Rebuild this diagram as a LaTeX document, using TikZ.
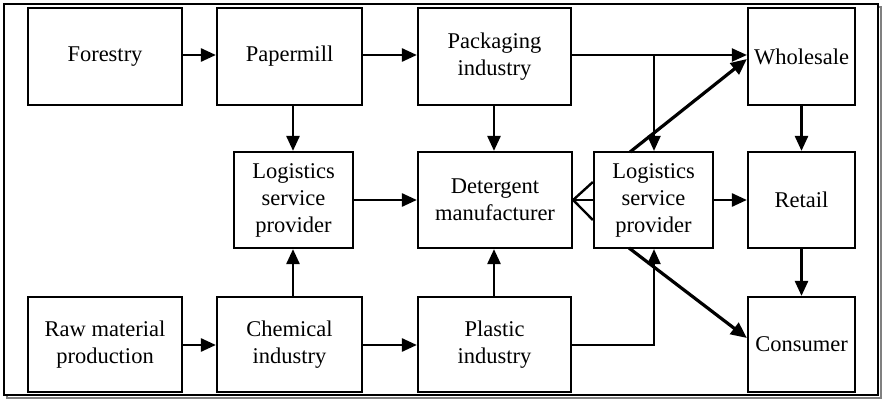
\documentclass[tikz,border=0pt]{standalone}
\usepackage{fontspec}
\setmainfont{Liberation Serif}
\usetikzlibrary{arrows.meta}
\begin{document}
\begin{tikzpicture}[x=1pt,y=-1pt,
  box/.style={draw,line width=2.2pt,rectangle,inner sep=0pt,align=center,
    font=\fontsize{22.5}{27}\selectfont},
  arr/.style={line width=2.6pt,-{Triangle[length=15pt,width=13pt]}},
  thin arr/.style={line width=2.1pt,-{Triangle[length=15pt,width=13pt]}},
  diag arr/.style={line width=3.2pt,-{Triangle[length=16pt,width=14pt]}},
  fork/.style={line width=2.4pt}]
\useasboundingbox (0,0) rectangle (884,401);
% frame with shadow
\draw[line width=1.6pt,gray] (7,7) rectangle (881,398);
\draw[line width=2.2pt,fill=white] (4,4) rectangle (878,395);
% row 1
\node[box,minimum width=154pt,minimum height=97pt] (forestry) at (105,56.5) {Forestry};
\node[box,minimum width=145pt,minimum height=97pt] (paper) at (289.5,56.5) {Papermill};
\node[box,minimum width=153pt,minimum height=97pt] (pack) at (494.5,56.5) {Packaging\\industry};
\node[box,minimum width=107pt,minimum height=97pt] (whole) at (801.5,56.5) {Wholesale};
% row 2
\node[box,minimum width=119pt,minimum height=96pt] (logl) at (293.5,200) {Logistics\\service\\provider};
\node[box,minimum width=154pt,minimum height=96pt] (det) at (495,200) {Detergent\\manufacturer};
\node[box,minimum width=119pt,minimum height=96pt] (logr) at (653.5,200) {Logistics\\service\\provider};
\node[box,minimum width=107pt,minimum height=96pt] (retail) at (801.5,200) {Retail};
% row 3
\node[box,minimum width=154pt,minimum height=95pt] (raw) at (105,344.5) {Raw material\\production};
\node[box,minimum width=145pt,minimum height=95pt] (chem) at (289.5,344.5) {Chemical\\industry};
\node[box,minimum width=153pt,minimum height=95pt] (plastic) at (494.5,344.5) {Plastic\\industry};
\node[box,minimum width=107pt,minimum height=95pt] (cons) at (801.5,344.5) {Consumer};
% coordinates
\coordinate (br1) at (654,55);
\coordinate (br2) at (654,345);
% arrows row 1
\draw[arr] (forestry.east |- 0,55) -- (paper.west |- 0,55);
\draw[arr] (paper.east |- 0,55) -- (pack.west |- 0,55);
\draw[thin arr] (pack.east |- 0,55) -- (whole.west |- 0,55);
\draw[thin arr] (br1) -- (br1 |- logr.north);
% arrows row 3
\draw[arr] (raw.east |- 0,345) -- (chem.west |- 0,345);
\draw[arr] (chem.east |- 0,345) -- (plastic.west |- 0,345);
% verticals
\draw[arr] (paper.south -| 293,0) -- (logl.north -| 293,0);
\draw[arr] (chem.north -| 293,0) -- (logl.south -| 293,0);
\draw[arr] (pack.south -| 494,0) -- (det.north -| 494,0);
\draw[arr] (plastic.north -| 494,0) -- (det.south -| 494,0);
\draw[arr] (logl.east) -- (det.west);
\draw[arr] (logr.east) -- (retail.west);
\draw[arr] (whole.south) -- (retail.north);
\draw[arr] (retail.south) -- (cons.north);
% plastic to logistics right
\draw[thin arr] (plastic.east |- 0,345) -- (br2) -- (br2 |- logr.south);
% fork from detergent to logistics right
\draw[fork] (det.east) -- (logr.west |- 0,182);
\draw[fork] (det.east) -- (logr.west);
\draw[fork] (det.east) -- (logr.west |- 0,220);
% diagonals
\coordinate (d1) at (630,152);
\coordinate (d2) at (629,248);
\draw[diag arr] (d1) -- (whole.west |- 0,59);
\draw[diag arr] (d2) -- (cons.west |- 0,338);
\end{tikzpicture}
\end{document}
